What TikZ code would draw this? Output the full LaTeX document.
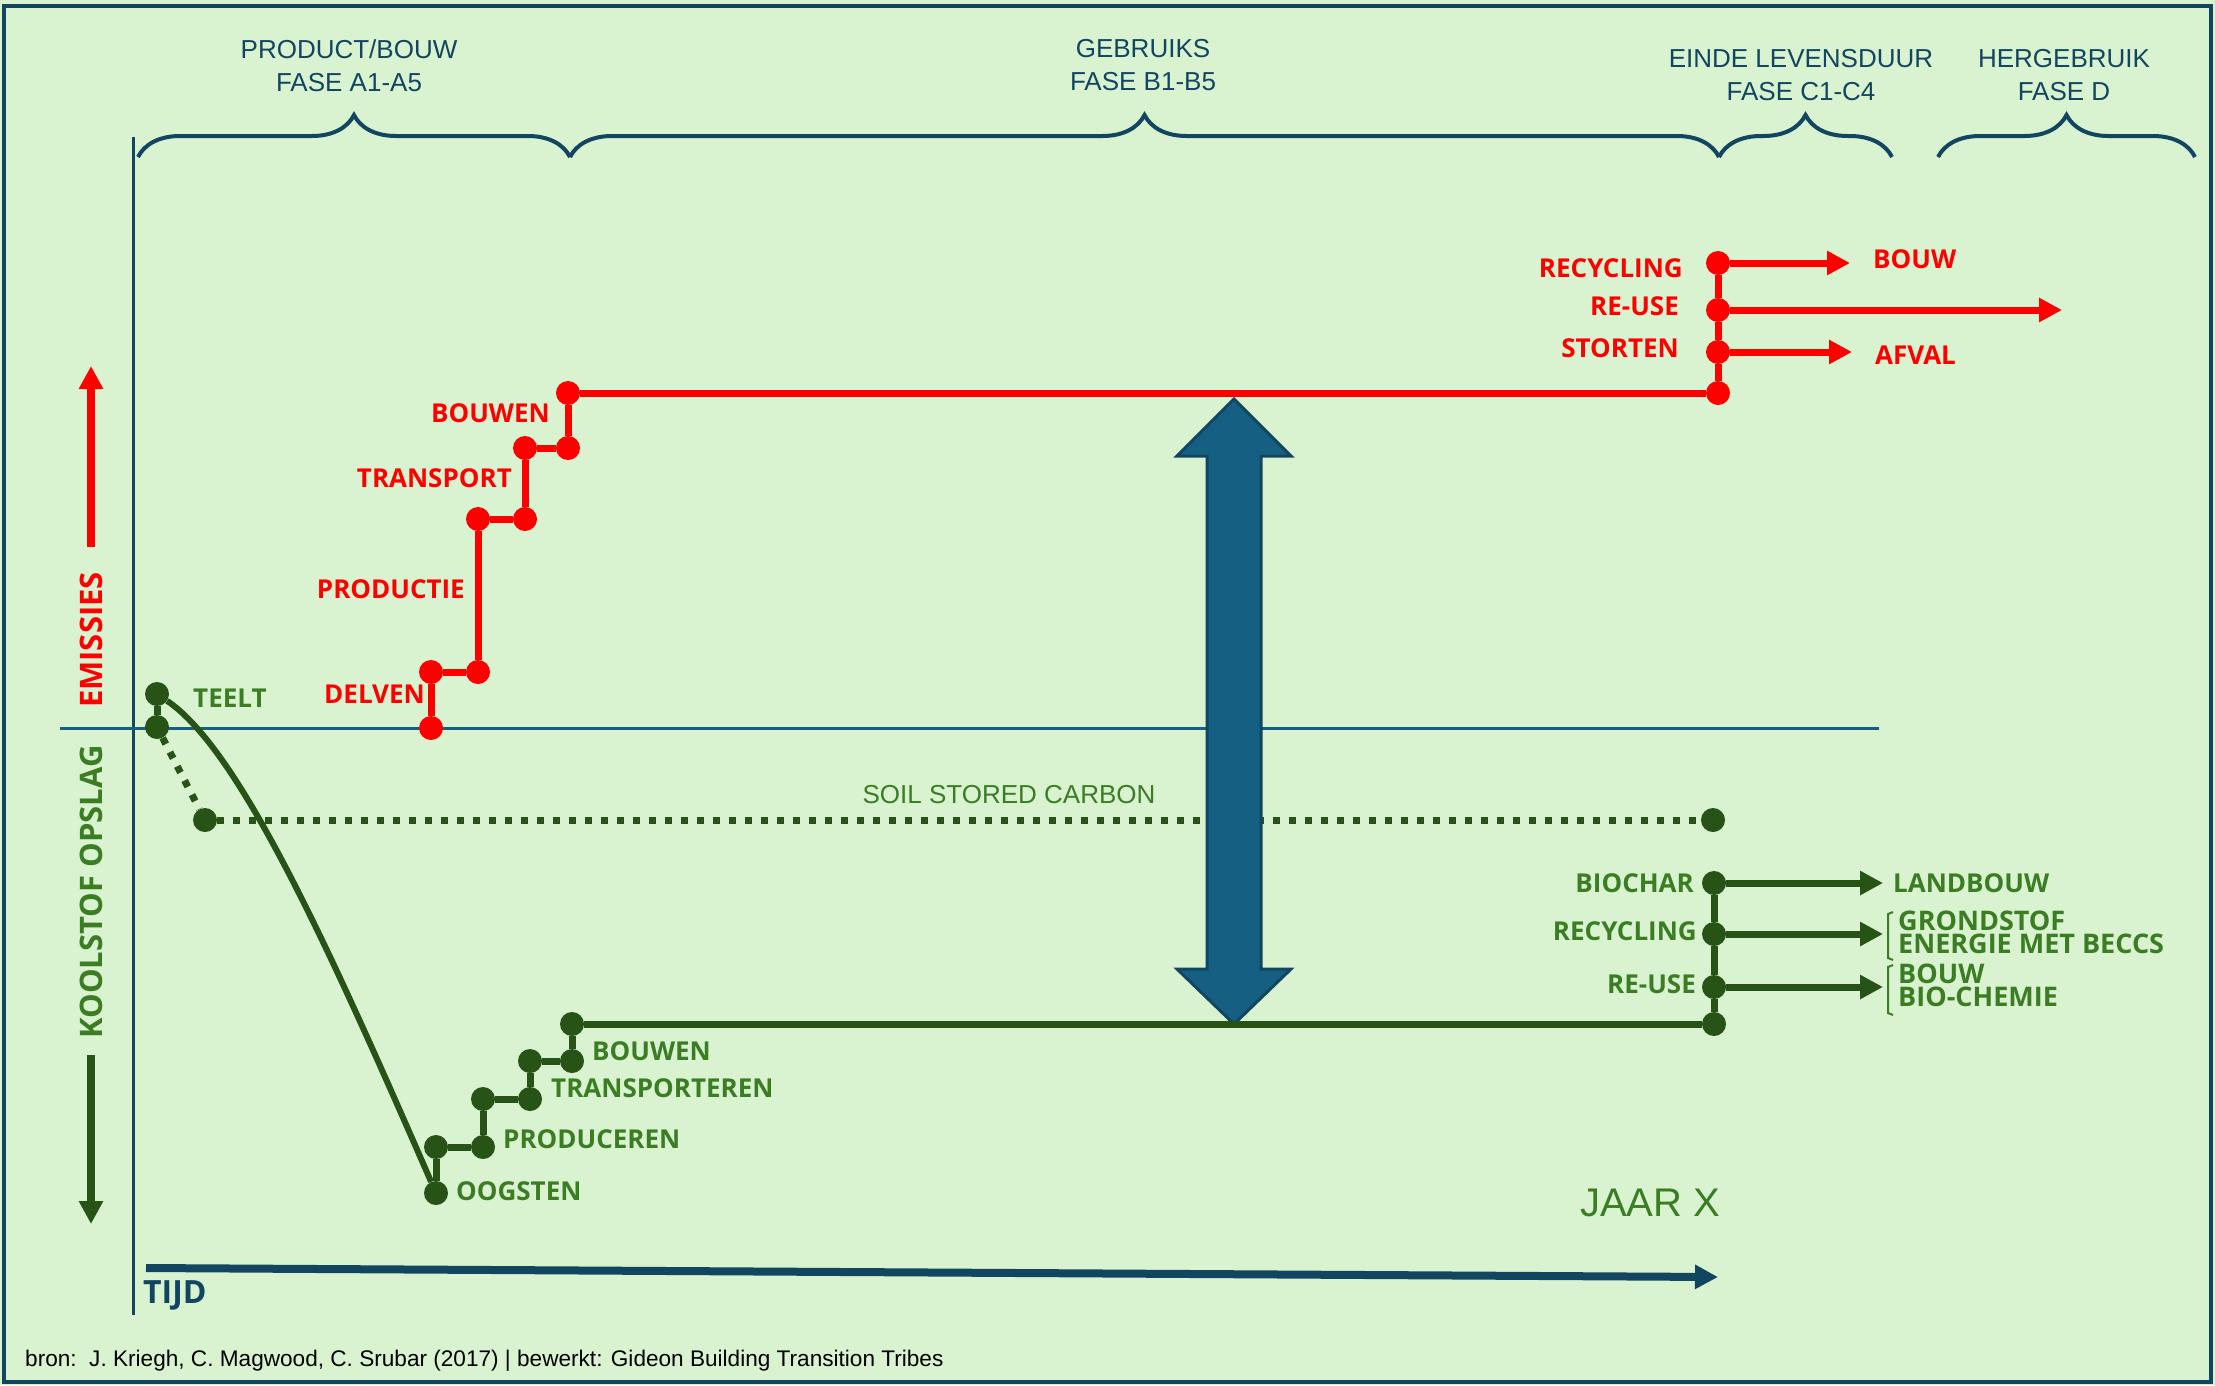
\documentclass[tikz,border=0pt]{standalone}
\usepackage{fontspec}
\setmainfont{Liberation Sans}
\newfontfamily\labfont{Open Sans}
\usetikzlibrary{arrows.meta,decorations.pathreplacing}

\definecolor{paper}{RGB}{217,242,208}
\definecolor{navy}{RGB}{18,70,96}
\definecolor{zeroblue}{RGB}{21,96,130}
\definecolor{emisred}{RGB}{255,0,0}
\definecolor{leafdark}{RGB}{39,83,23}
\definecolor{leaftext}{RGB}{59,125,35}

\tikzset{
    reddot/.style={circle, fill=emisred, inner sep=0pt, minimum size=24pt},
    greendot/.style={circle, fill=leafdark, inner sep=0pt, minimum size=24pt},
    redline/.style={draw=emisred, line width=7pt},
    greenline/.style={draw=leafdark, line width=7pt},
    soilline/.style={draw=leafdark, line width=7pt, dash pattern=on 7pt off 9pt},
    tip/.style={-{Triangle[length=23pt,width=23pt]}},
    redlab/.style={text=emisred, font=\labfont\bfseries\fontsize{26}{30}\selectfont, inner sep=0pt},
    greenlab/.style={text=leaftext, font=\labfont\bfseries\fontsize{26}{30}\selectfont, inner sep=0pt},
    pairlab/.style={greenlab, anchor=west, align=left, font=\labfont\bfseries\fontsize{27}{23}\selectfont},
    sidelab/.style={font=\labfont\bfseries\fontsize{31}{36}\selectfont, inner sep=0pt, rotate=90},
    phase/.style={text=navy, font=\fontsize{26}{33}\selectfont, align=center, inner sep=0pt},
    phasebrace/.style={draw=navy, line width=4pt, decorate, decoration={brace, amplitude=42pt}},
}

\begin{document}
\begin{tikzpicture}[x=1pt, y=-1pt]

    \fill[paper] (0,0) rectangle (2215,1385);
    \useasboundingbox (0,0) rectangle (2215,1385);
    \draw[navy, line width=4pt] (4,6) rectangle (2211,1382);

    % phases
    \node[phase] (fase A) at (349,65.5) {PRODUCT/BOUW\\FASE A1-A5};
    \node[phase] (fase B) at (1143,65.5) {GEBRUIKS\\FASE B1-B5};
    \node[phase] (fase C) at (1801,75) {EINDE LEVENSDUUR\\FASE C1-C4};
    \node[phase] (fase D) at (2064,75) {HERGEBRUIK\\FASE D};

    \draw[phasebrace] (138,157) -- (570,157);
    \draw[phasebrace] (570,157) -- (1719,157);
    \draw[phasebrace] (1719,157) -- (1892,157);
    \draw[phasebrace] (1938,157) -- (2195,157);

    % axes
    \draw[navy, line width=3pt] (133,137) -- (133,1315);
    \draw[zeroblue, line width=3pt] (60,728) -- (1879,728);

    \coordinate (up start) at (91,547);
    \coordinate (up end) at (91,366);
    \coordinate (down start) at (91,1055);
    \coordinate (down end) at (91,1224);
    \draw[tip, emisred, line width=8pt] (up start) -- (up end);
    \draw[tip, leafdark, line width=8pt] (down start) -- (down end);
    \node[sidelab, text=emisred] (emissies) at (91,640) {EMISSIES};
    \node[sidelab, text=leaftext] (opslag) at (91,892) {KOOLSTOF OPSLAG};

    \coordinate (time start) at (146,1268);
    \coordinate (time end) at (1718,1277);
    \draw[tip, navy, line width=8pt] (time start) -- (time end);
    \node[text=navy, font=\labfont\bfseries\fontsize{32}{36}\selectfont, inner sep=0pt, anchor=west] (tijd) at (143,1295) {TIJD};

    % soil stored carbon
    \node[greendot] (teelt top) at (157,694) {};
    \node[greendot] (teelt low) at (157,727) {};
    \node[greendot] (soil start) at (205,820) {};
    \node[greendot] (soil end) at (1713,820) {};
    \draw[soilline] (teelt low) -- (soil start);
    \draw[soilline] (soil start) -- (soil end);
    \node[text=leaftext, font=\fontsize{26}{30}\selectfont, inner sep=0pt] (soil) at (1009,795) {SOIL STORED CARBON};

    % difference arrow
    \draw[fill=zeroblue, draw=navy, line width=3pt, line join=miter]
        (1234,399) -- (1291,456) -- (1261,456) -- (1261,969) -- (1291,969) -- (1234,1024)
        -- (1177,969) -- (1207,969) -- (1207,456) -- (1177,456) -- cycle;

    % emissions
    \node[reddot] (delven a) at (431,728) {};
    \node[reddot] (delven b) at (431,672) {};
    \node[reddot] (productie a) at (478,672) {};
    \node[reddot] (productie b) at (478,519) {};
    \node[reddot] (transport a) at (525,519) {};
    \node[reddot] (transport b) at (525,448) {};
    \node[reddot] (bouwen a) at (568,448) {};
    \node[reddot] (bouwen b) at (568,393) {};
    \node[reddot] (einde) at (1718,393) {};
    \node[reddot] (storten) at (1718,352) {};
    \node[reddot] (reuse) at (1718,310) {};
    \node[reddot] (recycling) at (1718,263) {};

    \draw[redline] (delven a) -- (delven b) -- (productie a) -- (productie b) -- (transport a)
        -- (transport b) -- (bouwen a) -- (bouwen b) -- (einde);
    \draw[redline] (einde) -- (storten) -- (reuse) -- (recycling);

    \coordinate (bouw end) at (1850,263);
    \coordinate (reuse end) at (2062,310);
    \coordinate (afval end) at (1852,352);
    \draw[redline, tip] (recycling) -- (bouw end);
    \draw[redline, tip] (reuse) -- (reuse end);
    \draw[redline, tip] (storten) -- (afval end);

    \node[redlab, anchor=east] at (425,694) {DELVEN};
    \node[redlab, anchor=east] at (465,589) {PRODUCTIE};
    \node[redlab, anchor=east] at (512,478) {TRANSPORT};
    \node[redlab, anchor=east] at (550,413) {BOUWEN};
    \node[redlab, anchor=east] at (1683,268) {RECYCLING};
    \node[redlab, anchor=east] at (1679,306) {RE-USE};
    \node[redlab, anchor=east] at (1679,348) {STORTEN};
    \node[redlab, anchor=west] at (1873,259) {BOUW};
    \node[redlab, anchor=west] at (1875,355) {AFVAL};

    % carbon storage
    \node[greendot] (oogsten a) at (436,1193) {};
    \node[greendot] (oogsten b) at (436,1147) {};
    \node[greendot] (produceren a) at (483,1147) {};
    \node[greendot] (produceren b) at (483,1099) {};
    \node[greendot] (transporteren a) at (530,1099) {};
    \node[greendot] (transporteren b) at (530,1061) {};
    \node[greendot] (bouwen c) at (572,1061) {};
    \node[greendot] (bouwen d) at (572,1024) {};
    \node[greendot] (jaar x) at (1714,1024) {};
    \node[greendot] (reuse g) at (1714,987) {};
    \node[greendot] (recycling g) at (1714,934) {};
    \node[greendot] (biochar) at (1714,883) {};

    \draw[greenline] (teelt top) -- (teelt low);
    \draw[greenline, line width=6pt] (teelt top) .. controls (240,750) and (330,950) .. (oogsten a);
    \draw[greenline] (oogsten a) -- (oogsten b) -- (produceren a) -- (produceren b) -- (transporteren a)
        -- (transporteren b) -- (bouwen c) -- (bouwen d) -- (jaar x);
    \draw[greenline] (jaar x) -- (reuse g) -- (recycling g) -- (biochar);

    \coordinate (landbouw end) at (1883,883);
    \coordinate (grondstof end) at (1883,934);
    \coordinate (chemie end) at (1883,987);
    \draw[greenline, tip] (biochar) -- (landbouw end);
    \draw[greenline, tip] (recycling g) -- (grondstof end);
    \draw[greenline, tip] (reuse g) -- (chemie end);

    \node[greenlab, anchor=west] at (193,698) {TEELT};
    \node[greenlab, anchor=west] at (456,1191) {OOGSTEN};
    \node[greenlab, anchor=west] at (503,1139) {PRODUCEREN};
    \node[greenlab, anchor=west] at (551,1088) {TRANSPORTEREN};
    \node[greenlab, anchor=west] at (592,1051) {BOUWEN};
    \node[greenlab, anchor=east] at (1694,883) {BIOCHAR};
    \node[greenlab, anchor=east] at (1697,931) {RECYCLING};
    \node[greenlab, anchor=east] at (1696,984) {RE-USE};
    \node[greenlab, anchor=west] at (1893,883) {LANDBOUW};
    \node[pairlab] at (1898,932) {GRONDSTOF\\ENERGIE MET BECCS};
    \node[pairlab] at (1898,985.5) {BOUW\\BIO-CHEMIE};
    \draw[leaftext, line width=2pt] (1893,912) -- (1888,914) -- (1888,958) -- (1893,960);
    \draw[leaftext, line width=2pt] (1893,965) -- (1888,967) -- (1888,1013) -- (1893,1015);

    \node[text=leaftext, font=\fontsize{40}{44}\selectfont, inner sep=0pt] (jaar) at (1650,1203) {JAAR X};

    % source
    \node[font=\fontsize{22.6}{26}\selectfont, inner sep=0pt, anchor=west] (bron) at (25,1361)
        {bron:\ \ J. Kriegh, C. Magwood, C. Srubar (2017) | bewerkt: Gideon Building Transition Tribes};

\end{tikzpicture}
\end{document}
